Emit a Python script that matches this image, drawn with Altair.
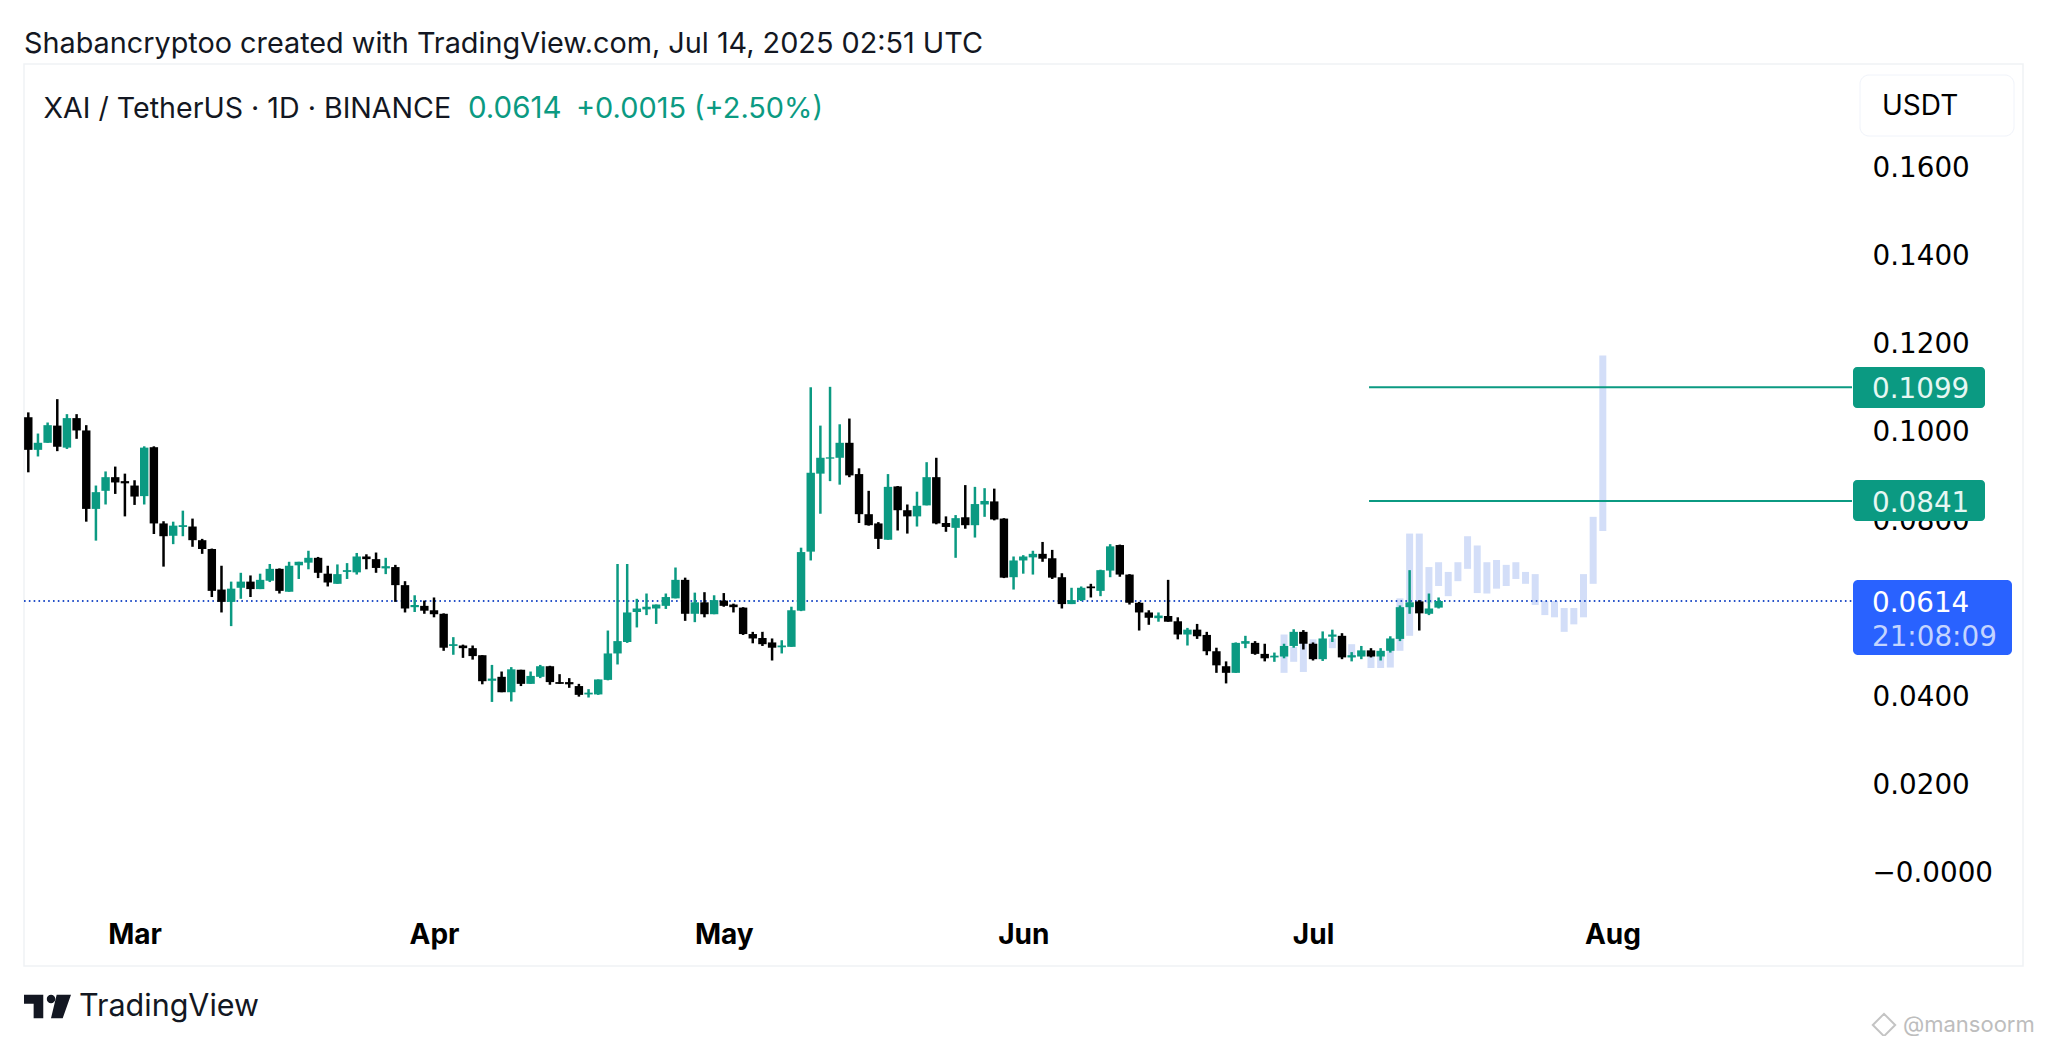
import altair as alt
import pandas as pd

opens = [0.1031,0.0957,0.0973,0.1012,0.0962,0.1029,0.1001,0.0823,0.0864,0.0895,
0.0886,0.0876,0.0852,0.0963,0.0790,0.0762,0.0782,0.0783,0.0752,0.0732,
0.0640,0.0612,0.0644,0.0658,0.0641,0.0660,0.0687,0.0635,0.0695,0.0701,
0.0712,0.0676,0.0653,0.0680,0.0679,0.0715,0.0709,0.0688,0.0691,0.0650,
0.0600,0.0603,0.0593,0.0585,0.0512,0.0513,0.0507,0.0491,0.0433,0.0442,
0.0407,0.0458,0.0426,0.0442,0.0466,0.0430,0.0430,0.0421,0.0402,0.0402,
0.0435,0.0495,0.0521,0.0589,0.0595,0.0597,0.0603,0.0620,0.0662,0.0585,
0.0611,0.0584,0.0615,0.0606,0.0599,0.0539,0.0530,0.0520,0.0509,0.0510,
0.0592,0.0726,0.0903,0.0937,0.0939,0.0973,0.0902,0.0811,0.0790,0.0753,
0.0874,0.0820,0.0806,0.0831,0.0895,0.0791,0.0780,0.0804,0.0786,0.0833,
0.0840,0.0801,0.0668,0.0706,0.0713,0.0721,0.0711,0.0668,0.0607,0.0616,
0.0647,0.0637,0.0683,0.0741,0.0674,0.0610,0.0588,0.0575,0.0580,0.0568,
0.0538,0.0549,0.0537,0.0500,0.0466,0.0451,0.0517,0.0519,0.0494,0.0486,
0.0488,0.0512,0.0544,0.0517,0.0482,0.0533,0.0535,0.0486,0.0488,0.0502,
0.0488,0.0501,0.0528,0.0600,0.0613,0.0585,0.0599]
closes = [0.0957,0.0973,0.1013,0.0964,0.1029,0.1001,0.0823,0.0861,0.0895,0.0883,
0.0881,0.0851,0.0962,0.0790,0.0761,0.0785,0.0786,0.0752,0.0732,0.0637,
0.0612,0.0642,0.0658,0.0641,0.0662,0.0687,0.0637,0.0694,0.0703,0.0712,
0.0678,0.0656,0.0675,0.0684,0.0715,0.0709,0.0689,0.0693,0.0650,0.0597,
0.0605,0.0592,0.0584,0.0508,0.0516,0.0507,0.0489,0.0432,0.0438,0.0407,
0.0459,0.0426,0.0444,0.0466,0.0430,0.0426,0.0425,0.0401,0.0406,0.0436,
0.0495,0.0523,0.0588,0.0597,0.0601,0.0606,0.0623,0.0662,0.0585,0.0611,
0.0584,0.0616,0.0603,0.0600,0.0539,0.0529,0.0516,0.0508,0.0513,0.0593,
0.0725,0.0905,0.0939,0.0940,0.0973,0.0899,0.0811,0.0786,0.0755,0.0873,
0.0820,0.0806,0.0830,0.0895,0.0790,0.0782,0.0802,0.0786,0.0834,0.0841,
0.0799,0.0667,0.0706,0.0715,0.0721,0.0710,0.0667,0.0607,0.0616,0.0644,
0.0643,0.0684,0.0738,0.0674,0.0610,0.0588,0.0576,0.0581,0.0567,0.0538,
0.0549,0.0534,0.0500,0.0468,0.0451,0.0519,0.0523,0.0494,0.0484,0.0490,
0.0512,0.0544,0.0517,0.0482,0.0529,0.0538,0.0486,0.0491,0.0502,0.0488,
0.0501,0.0529,0.0600,0.0611,0.0586,0.0597,0.0614]
highs = [0.1042,0.0994,0.1019,0.1072,0.1038,0.1038,0.1013,0.0876,0.0908,0.0919,
0.0903,0.0888,0.0965,0.0965,0.0795,0.0794,0.0819,0.0801,0.0755,0.0733,
0.0694,0.0658,0.0678,0.0672,0.0676,0.0698,0.0688,0.0703,0.0703,0.0728,
0.0714,0.0694,0.0697,0.0700,0.0723,0.0720,0.0724,0.0712,0.0696,0.0659,
0.0627,0.0615,0.0622,0.0586,0.0532,0.0515,0.0513,0.0491,0.0469,0.0454,
0.0464,0.0458,0.0454,0.0469,0.0467,0.0448,0.0439,0.0426,0.0414,0.0436,
0.0547,0.0698,0.0698,0.0619,0.0631,0.0606,0.0631,0.0690,0.0667,0.0633,
0.0634,0.0627,0.0632,0.0608,0.0600,0.0544,0.0544,0.0529,0.0525,0.0601,
0.0735,0.1099,0.1012,0.1100,0.1015,0.1028,0.0915,0.0864,0.0793,0.0902,
0.0875,0.0833,0.0862,0.0929,0.0939,0.0806,0.0809,0.0877,0.0873,0.0870,
0.0869,0.0802,0.0715,0.0718,0.0728,0.0748,0.0730,0.0677,0.0644,0.0647,
0.0653,0.0685,0.0743,0.0742,0.0675,0.0612,0.0593,0.0588,0.0662,0.0577,
0.0553,0.0562,0.0544,0.0508,0.0477,0.0520,0.0535,0.0523,0.0517,0.0497,
0.0517,0.0550,0.0548,0.0520,0.0545,0.0549,0.0541,0.0498,0.0512,0.0507,
0.0507,0.0534,0.0604,0.0684,0.0616,0.0631,0.0622]
lows = [0.0906,0.0942,0.0973,0.0954,0.0959,0.0982,0.0794,0.0751,0.0833,0.0857,
0.0806,0.0832,0.0833,0.0766,0.0692,0.0743,0.0761,0.0737,0.0721,0.0623,
0.0588,0.0557,0.0619,0.0623,0.0641,0.0657,0.0631,0.0635,0.0664,0.0686,
0.0666,0.0647,0.0653,0.0664,0.0674,0.0686,0.0678,0.0675,0.0612,0.0588,
0.0589,0.0585,0.0577,0.0501,0.0492,0.0485,0.0481,0.0425,0.0385,0.0407,
0.0386,0.0421,0.0426,0.0439,0.0424,0.0426,0.0417,0.0397,0.0395,0.0401,
0.0434,0.0470,0.0519,0.0554,0.0582,0.0562,0.0596,0.0620,0.0569,0.0566,
0.0577,0.0584,0.0601,0.0588,0.0537,0.0518,0.0512,0.0479,0.0495,0.0510,
0.0591,0.0706,0.0812,0.0886,0.0878,0.0895,0.0791,0.0785,0.0732,0.0753,
0.0774,0.0767,0.0783,0.0831,0.0788,0.0771,0.0712,0.0778,0.0758,0.0805,
0.0797,0.0666,0.0640,0.0676,0.0674,0.0703,0.0664,0.0597,0.0607,0.0614,
0.0622,0.0625,0.0668,0.0669,0.0606,0.0547,0.0560,0.0567,0.0567,0.0527,
0.0513,0.0528,0.0491,0.0451,0.0427,0.0451,0.0507,0.0492,0.0477,0.0476,
0.0484,0.0508,0.0504,0.0479,0.0478,0.0521,0.0482,0.0477,0.0482,0.0486,
0.0479,0.0497,0.0523,0.0585,0.0547,0.0582,0.0597]

# Projected (ghost) bars: day number counted from the first candle, top, bottom
ghost_day = [130,131,132,133,135,137,139,140,141,142,143,144,145,146,147,148,149,150,151,152,153,154,155,156,157,158,159,160,161,162,163]
ghost_top = [.0538,.0510,.0522,.0527,.0529,.0516,.0488,.0488,.0522,.0620,.0767,.0767,.0691,.0702,.0680,.0702,.0761,.0740,.0702,.0707,.0696,.0702,.0680,.0675,.0614,.0614,.0598,.0598,.0675,.0805,.1171]
ghost_bot = [.0451,.0476,.0453,.0488,.0507,.0486,.0462,.0462,.0463,.0501,.0535,.0609,.0609,.0648,.0625,.0659,.0687,.0632,.0631,.0642,.0648,.0664,.0653,.0605,.0582,.0577,.0544,.0561,.0577,.0653,.0773]

price_ticks = [0.0, 0.02, 0.04, 0.08, 0.10, 0.12, 0.14, 0.16]
month_ticks = ["2025-03-01", "2025-04-01", "2025-05-01", "2025-06-01", "2025-07-01", "2025-08-01"]
target_levels = [0.0841, 0.1099]
last_price = 0.0614

GREEN, BLACK = "#0b9a82", "#000000"
GHOST, BLUE = "#d3def8", "#2962ff"
FONT, NUM = "Inter", "DejaVu Sans"
X0, Y0 = 24, 64  # plot origin on the page

all_days = pd.date_range("2025-02-18", periods=164, freq="D", tz="UTC")
candles = pd.DataFrame({
    "date": all_days[:len(opens)].strftime("%Y-%m-%dT00:00:00Z"),
    "open": opens, "high": highs, "low": lows, "close": closes,
})
candles["dir"] = ["up" if c >= o else "down" for o, c in zip(opens, closes)]
ghost = pd.DataFrame({
    "date": all_days[ghost_day].strftime("%Y-%m-%dT00:00:00Z"),
    "top": ghost_top, "bot": ghost_bot,
})

xscale = alt.Scale(type="utc", domain=["2025-02-17T13:19:00Z", "2025-09-12T12:00:00Z"])
yscale = alt.Scale(domain=[-0.02142, 0.18325], nice=False, zero=False)
colour = alt.Color("dir:N", scale=alt.Scale(domain=["up", "down"], range=[GREEN, BLACK]), legend=None)

xaxis = alt.Axis(
    values=[alt.DateTime(year=2025, month=int(m[5:7]), date=1, utc=True) for m in month_ticks],
    format="%b", labelFont=FONT, labelFontSize=28, labelFontWeight="bold", labelColor="#000000",
    labelBaseline="middle", labelPadding=0, labelFlush=False, labelOverlap=False,
    ticks=False, domain=False, grid=False, offset=-31, title=None,
)
yaxis = alt.Axis(
    orient="right", values=price_ticks,
    labelExpr="datum.value < 0.000001 ? '\u22120.0000' : format(datum.value, '.4f')",
    labelFont=NUM, labelFontSize=27.8, labelColor="#000000", labelAlign="left", labelPadding=0,
    labelOffset=2, ticks=False, domain=False, grid=False, offset=-151, title=None,
)
X = lambda f: alt.X(f, type="temporal", scale=xscale, axis=xaxis, title=None)
Y = lambda f: alt.Y(f, type="quantitative", scale=yscale, axis=yaxis, title=None)

ghost_bars = alt.Chart(ghost).mark_rule(strokeWidth=7, color=GHOST).encode(x=X("date"), y=Y("top"), y2=alt.Y2("bot"))

line_end = "2025-08-25T19:12:00Z"
last_line = alt.Chart(pd.DataFrame({"a": ["2025-02-17T13:19:00Z"], "b": [line_end], "p": [last_price]})).mark_rule(
    color="#2450c8", strokeWidth=1.8, strokeDash=[1.6, 3.23]
).encode(x=X("a"), x2="b:T", y=Y("p"))
levels = alt.Chart(pd.DataFrame({"a": ["2025-07-06T19:12:00Z"] * 2, "b": [line_end] * 2, "p": target_levels})).mark_rule(
    color="#0b9a82", strokeWidth=2
).encode(x=X("a"), x2="b:T", y=Y("p"))

wicks = alt.Chart(candles).mark_rule(strokeWidth=2.5).encode(x=X("date"), y=Y("high"), y2=alt.Y2("low"), color=colour)
bodies = alt.Chart(candles).mark_rule(strokeWidth=8.4).encode(x=X("date"), y=Y("open"), y2=alt.Y2("close"), color=colour)


def box(x1, x2, y1, y2, fill, stroke=None, radius=4):
    kw = {"stroke": stroke, "strokeWidth": 1} if stroke else {}
    return alt.Chart(pd.DataFrame({"a": [0]})).mark_rect(fill=fill, cornerRadius=radius, **kw).encode(
        x=alt.value(x1 - X0), x2=alt.value(x2 - X0), y=alt.value(y1 - Y0), y2=alt.value(y2 - Y0)
    )


def label(txt, x, y, size, color="#000000", weight="normal", align="left", font=FONT):
    return alt.Chart(pd.DataFrame({"a": [0]})).mark_text(
        text=txt, font=font, fontSize=size, color=color, fontWeight=weight, align=align, baseline="middle"
    ).encode(x=alt.value(x - X0), y=alt.value(y - Y0))


LOGO = ("M-1 -0.5 L-0.18 -0.5 L-0.18 0.5 L-0.59 0.5 L-0.59 -0.115 L-1 -0.115 Z "
        "M-0.03 -0.315 A0.18 0.18 0 1 0 0.33 -0.315 A0.18 0.18 0 1 0 -0.03 -0.315 Z "
        "M0.39 -0.5 L1 -0.5 L0.647 0.5 L0.149 0.5 Z")
logo = alt.Chart(pd.DataFrame({"a": [0]})).mark_point(shape=LOGO, filled=True, size=2209, color="#131722", opacity=1).encode(
    x=alt.value(47.5 - X0), y=alt.value(1006.5 - Y0)
)
binance = alt.Chart(pd.DataFrame({"a": [0]})).mark_point(shape="diamond", filled=False, size=500, color="#c4c4c4", strokeWidth=2, opacity=1).encode(
    x=alt.value(1884 - X0), y=alt.value(1025 - Y0)
)

extras = [
    box(1860, 2014, 75, 136, "#ffffff", "#f0f3fa", 9),
    label("USDT", 1882, 107, 28),
    box(1853, 1985, 367, 408, GREEN),
    box(1853, 1985, 480, 521, GREEN),
    box(1853, 2012, 580, 655, BLUE, None, 5),
    label("0.1099", 1872, 390, 27.8, "#e6f7f3", font=NUM),
    label("0.0841", 1872, 503.5, 27.8, "#e6f7f3", font=NUM),
    label("0.0614", 1872, 604, 27.8, "#ffffff", font=NUM),
    label("21:08:09", 1872, 638, 27.8, "#c3d4ff", font=NUM),
    label("Shabancryptoo created with TradingView.com, Jul 14, 2025 02:51 UTC", 24, 44, 28.8, "#131722"),
    label("XAI / TetherUS \u00b7 1D \u00b7 BINANCE", 43.5, 108.5, 28.6, "#131722"),
    label("0.0614", 468, 108.5, 29.5, GREEN),
    label("+0.0015 (+2.50%)", 576, 108.5, 28.9, GREEN),
    label("TradingView", 79, 1007, 30.5, "#131722"),
    logo,
    binance,
    label("@mansoorm", 1903, 1025, 22, "#bdbdbd"),
]

chart = alt.layer(ghost_bars, last_line, levels, wicks, bodies, *extras).properties(
    width=1999, height=902,
    padding={"left": X0 - 8, "top": Y0 - 8, "right": 17, "bottom": 70},
    autosize=alt.AutoSizeParams(type="none"),
    background="#ffffff",
).configure_view(stroke="#f0f2f5", strokeWidth=1.5)

chart.save("out.html", embed_options={"renderer": "svg", "actions": False})
